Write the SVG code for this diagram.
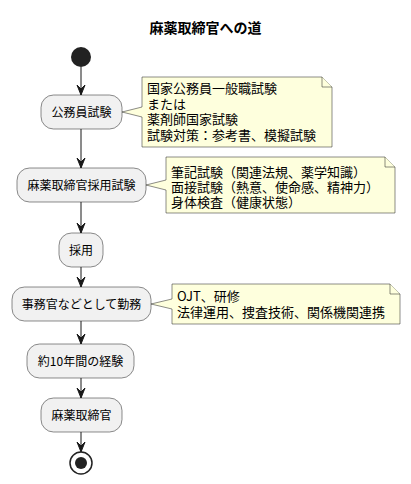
<svg xmlns="http://www.w3.org/2000/svg" width="411" height="484" viewBox="0 0 411 484">
<defs>
<style>
.t{font-family:"Noto Sans CJK JP","Noto Sans",sans-serif;fill:#000;}
.n{fill:#F1F1F1;stroke:#181818;stroke-width:0.5;}
.nt{font-size:12px;text-anchor:middle;}
.note{fill:#FEFFDD;stroke:#181818;stroke-width:0.5;}
.ntx{font-size:13px;}
.c{stroke:#181818;stroke-width:1;fill:none;}
.ah{fill:#181818;stroke:#181818;stroke-width:1;}
</style>
</defs>
<rect width="411" height="484" fill="#FFFFFF"/>
<text class="t" x="205.5" y="33" font-size="14" font-weight="bold" text-anchor="middle">麻薬取締官への道</text>
<g id="start"><circle cx="81" cy="57" r="10" fill="#222222"/></g>
<g id="connectors">
<line class="c" x1="81" y1="67" x2="81" y2="95"/>
<polygon class="ah" points="77,85 81,95 85,85 81,89"/>
<line class="c" x1="81" y1="129" x2="81" y2="168"/>
<polygon class="ah" points="77,158 81,168 85,158 81,162"/>
<line class="c" x1="81" y1="202" x2="81" y2="233"/>
<polygon class="ah" points="77,223 81,233 85,223 81,227"/>
<line class="c" x1="81" y1="267" x2="81" y2="287"/>
<polygon class="ah" points="77,277 81,287 85,277 81,281"/>
<line class="c" x1="81" y1="321" x2="81" y2="344"/>
<polygon class="ah" points="77,334 81,344 85,334 81,338"/>
<line class="c" x1="81" y1="378" x2="81" y2="398"/>
<polygon class="ah" points="77,388 81,398 85,388 81,392"/>
<line class="c" x1="81" y1="432" x2="81" y2="452"/>
<polygon class="ah" points="77,442 81,452 85,442 81,446"/>
</g>
<g id="node1">
<rect class="n" x="41" y="95" width="81" height="34" rx="12.5"/>
<text class="t nt" x="81.5" y="116.5">公務員試験</text>
</g>
<g id="note1">
<path class="note" d="M142,77 L322,77 L332,87 L332,147 L142,147 L142,117 L122,112 L142,107 Z"/>
<path class="note" d="M322,77 L322,87 L332,87"/>
<text class="t ntx"><tspan x="147" y="93">国家公務員一般職試験</tspan><tspan x="147" y="108.5">または</tspan><tspan x="147" y="124">薬剤師国家試験</tspan><tspan x="147" y="139.5">試験対策：参考書、模擬試験</tspan></text>
</g>
<g id="node2">
<rect class="n" x="17" y="168" width="129" height="34" rx="12.5"/>
<text class="t nt" x="81.5" y="189.5">麻薬取締官採用試験</text>
</g>
<g id="note2">
<path class="note" d="M166,157 L385,157 L395,167 L395,213 L166,213 L166,190 L146,185 L166,180 Z"/>
<path class="note" d="M385,157 L385,167 L395,167"/>
<text class="t ntx"><tspan x="171" y="176.5">筆記試験（関連法規、薬学知識）</tspan><tspan x="171" y="191.5">面接試験（熱意、使命感、精神力）</tspan><tspan x="171" y="206.5">身体検査（健康状態）</tspan></text>
</g>
<g id="node3">
<rect class="n" x="59" y="233" width="44" height="34" rx="12.5"/>
<text class="t nt" x="81" y="254.5">採用</text>
</g>
<g id="node4">
<rect class="n" x="12" y="287" width="139" height="34" rx="12.5"/>
<text class="t nt" x="81.5" y="308.5">事務官などとして勤務</text>
</g>
<g id="note3">
<path class="note" d="M172,284 L390,284 L400,294 L400,324 L172,324 L172,309 L151,304 L172,299 Z"/>
<path class="note" d="M390,284 L390,294 L400,294"/>
<text class="t ntx"><tspan x="177" y="300.5">OJT、研修</tspan><tspan x="177" y="316.5">法律運用、捜査技術、関係機関連携</tspan></text>
</g>
<g id="node5">
<rect class="n" x="27" y="344" width="107" height="34" rx="12.5"/>
<text class="t nt" x="80.5" y="365.5">約10年間の経験</text>
</g>
<g id="node6">
<rect class="n" x="41" y="398" width="81" height="34" rx="12.5"/>
<text class="t nt" x="81.5" y="419.5">麻薬取締官</text>
</g>
<g id="end">
<circle cx="81" cy="463" r="11" fill="none" stroke="#222222" stroke-width="1.5"/>
<circle cx="81" cy="463" r="6" fill="#222222"/>
</g>
</svg>
